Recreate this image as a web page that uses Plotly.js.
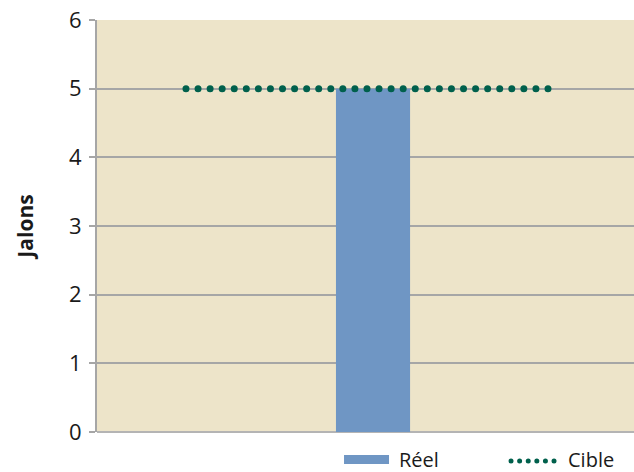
<!DOCTYPE html>
<html>
<head>
<meta charset="utf-8">
<script src="https://cdn.plot.ly/plotly-3.0.1.min.js"></script>
<style>html,body{margin:0;padding:0;background:#fff;}#chart{width:634px;height:472px;}</style>
</head>
<body>
<div id="chart"></div>
<script>
// Data
const barName = "Réel";
const barX = [0.514];
const barY = [5];
const barWidth = [0.138];

const targetName = "Cible";
const targetX = [0.1657, 0.8399];
const targetY = [5, 5];

const yTicks = [0, 1, 2, 3, 4, 5, 6];
const yTitle = "Jalons";

const barColor = "#6f96c4";
const lineColor = "#00604c";

const traces = [
  {
    type: "bar", name: barName, x: barX, y: barY, width: barWidth,
    marker: {color: barColor, line: {width: 0}}, hoverinfo: "skip", showlegend: false
  },
  {
    type: "scatter", mode: "lines", name: targetName, x: targetX, y: targetY,
    line: {color: lineColor, width: 7, dash: "0px,12.067px"}, hoverinfo: "skip", showlegend: false
  }
];

const legendFont = {family: "Open Sans, sans-serif", size: 20, color: "#1a1a1a"};

const layout = {
  width: 634, height: 472,
  margin: {l: 97, r: 0, t: 20, b: 40, autoexpand: false},
  paper_bgcolor: "#ffffff",
  plot_bgcolor: "#ede4c9",
  font: {family: "Open Sans, sans-serif", color: "#1a1a1a", size: 21},
  showlegend: false,
  xaxis: {
    range: [0, 1], showticklabels: false, showgrid: false, zeroline: false,
    showline: false, ticks: "", fixedrange: true
  },
  yaxis: {
    range: [0, 6], tickvals: yTicks, ticktext: yTicks.map(String),
    showgrid: true, gridcolor: "#a6a6a6", gridwidth: 2,
    zeroline: true, zerolinecolor: "#b4b4b4", zerolinewidth: 2,
    showline: true, linecolor: "#a6a6a6", linewidth: 2,
    ticks: "outside", ticklen: 6, tickwidth: 2, tickcolor: "#a6a6a6",
    ticklabelstandoff: 3,
    tickfont: {size: 22, color: "#1a1a1a"},
    title: {text: "<b>" + yTitle + "</b>", font: {size: 21, color: "#1a1a1a"}, standoff: 30},
    fixedrange: true
  },
  shapes: [
    {type: "rect", xref: "paper", yref: "paper", x0: 0.460, x1: 0.5438, y0: -0.0558, y1: -0.0777,
     fillcolor: barColor, line: {width: 0}},
    {type: "line", xref: "paper", yref: "paper", x0: 0.7710, x1: 0.8542, y0: -0.0704, y1: -0.0704,
     line: {color: lineColor, width: 5, dash: "0px,8.6px"}}
  ],
  annotations: [
    {xref: "paper", yref: "paper", x: 0.5605, y: -0.066, xanchor: "left", yanchor: "middle",
     borderpad: 0, text: barName, showarrow: false, font: legendFont},
    {xref: "paper", yref: "paper", x: 0.8752, y: -0.066, xanchor: "left", yanchor: "middle",
     borderpad: 0, text: targetName, showarrow: false, font: legendFont}
  ]
};

Plotly.newPlot("chart", traces, layout, {displayModeBar: false, staticPlot: true}).then(function(gd){
  gd.querySelectorAll(".scatterlayer .trace path.js-line").forEach(function(p){
    p.style.strokeLinecap = "round";
  });
  gd.querySelectorAll(".shapelayer path").forEach(function(p){
    p.style.strokeLinecap = "round";
  });
});
</script>
</body>
</html>
